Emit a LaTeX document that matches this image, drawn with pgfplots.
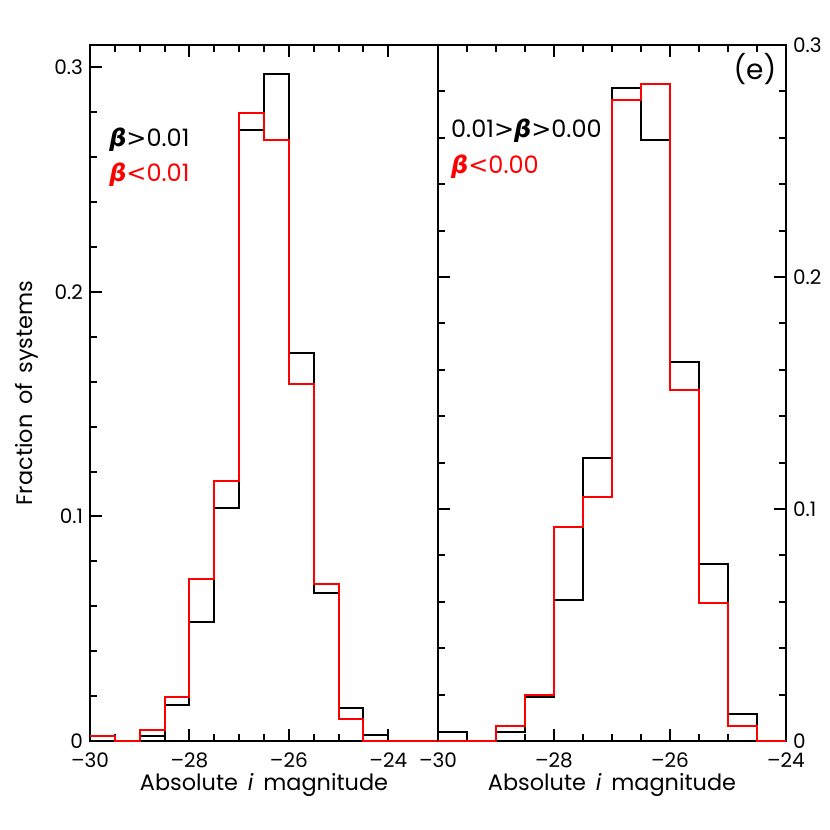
\documentclass[border=0pt]{standalone}
\usepackage{fontspec}
\setmainfont{Poppins}
\newfontfamily\dejavu{DejaVu Sans}
\usepackage{pgfplots}
\pgfplotsset{compat=1.18}
\newcommand{\bb}{{\dejavu\bfseries\itshape β}}
\newcommand{\gt}{{\dejavu >}}
\newcommand{\lt}{{\dejavu <}}
\pgfplotsset{
  hist/.style={scale only axis, width=174pt, height=348pt, ymin=0, clip=false,
    axis line style={line width=1pt}, every tick/.style={black, line width=1pt},
    major tick length=6pt, minor tick length=3.5pt,
    xtick={-30,-28,-26,-24}, xticklabels={–30,–28,–26,–24}, minor x tick num=3,
    ytick={0,0.1,0.2,0.3}, yticklabels={0,0.1,0.2,0.3}, minor y tick num=4,
    tick label style={font=\fontsize{10}{12}\selectfont},
    xticklabel style={yshift=-2.5pt},
    xlabel={Absolute\, \textit{i}\, magnitude},
    xlabel style={at={(axis description cs:0.5,-0.063)}, anchor=center, font=\fontsize{11.2}{13}\selectfont}},
  blk/.style={const plot, black, line width=1pt},
  rd/.style={const plot, red, line width=1pt}}

\begin{document}
\begin{tikzpicture}
\path[use as bounding box] (0,0) rectangle (415pt,415pt);
% left panel
\begin{axis}[hist, at={(45pt,44.5pt)}, anchor=south west,
  xmin=-30, xmax=-23, ymax=0.31, ytick pos=left,
  ylabel={Fraction\, of\, systems},
  ylabel style={at={(axis description cs:-0.181,0.5)}, anchor=center, font=\fontsize{11.2}{13}\selectfont}]
\addplot[blk] coordinates {(-30,0) (-29.5,0) (-29,0.0024) (-28.5,0.016) (-28,0.053) (-27.5,0.1037) (-27,0.272) (-26.5,0.297) (-26,0.173) (-25.5,0.0658) (-25,0.0148) (-24.5,0.0027) (-24,0) (-23.5,0) (-23,0)};
\addplot[rd] coordinates {(-30,0.0024) (-29.5,0) (-29,0.0049) (-28.5,0.0195) (-28,0.072) (-27.5,0.116) (-27,0.2796) (-26.5,0.2677) (-26,0.159) (-25.5,0.070) (-25,0.0097) (-24.5,0) (-24,0) (-23.5,0) (-23,0)};
\node[anchor=base west, inner sep=0pt, font=\fontsize{12}{14}\selectfont] at (axis cs:-29.62,0.2646) {\bb\gt0.01};
\node[anchor=base west, inner sep=0pt, font=\fontsize{12}{14}\selectfont, text=red] at (axis cs:-29.62,0.249) {\bb\lt0.01};
\end{axis}
% right panel
\begin{axis}[hist, at={(219pt,44.5pt)}, anchor=south west,
  xmin=-30, xmax=-24, ymax=0.3, yticklabel pos=right]
\addplot[blk] coordinates {(-30,0.0037) (-29.5,0) (-29,0.0037) (-28.5,0.0191) (-28,0.0608) (-27.5,0.1218) (-27,0.2813) (-26.5,0.2589) (-26,0.1634) (-25.5,0.0761) (-25,0.0115) (-24.5,0) (-24,0)};
\addplot[rd] coordinates {(-30,0) (-29.5,0) (-29,0.0066) (-28.5,0.0197) (-28,0.0921) (-27.5,0.1052) (-27,0.2763) (-26.5,0.2832) (-26,0.1513) (-25.5,0.0593) (-25,0.0066) (-24.5,0) (-24,0)};
\node[anchor=base west, inner sep=0pt, font=\fontsize{12}{14}\selectfont] at (axis cs:-29.78,0.26) {0.01\gt\bb\gt0.00};
\node[anchor=base west, inner sep=0pt, font=\fontsize{12}{14}\selectfont, text=red] at (axis cs:-29.78,0.2448) {\bb\lt0.00};
\node[anchor=base east, inner sep=0pt, font=\fontsize{14}{16}\selectfont] at (axis cs:-24.16,0.285) {(e)};
\end{axis}
\end{tikzpicture}
\end{document}
